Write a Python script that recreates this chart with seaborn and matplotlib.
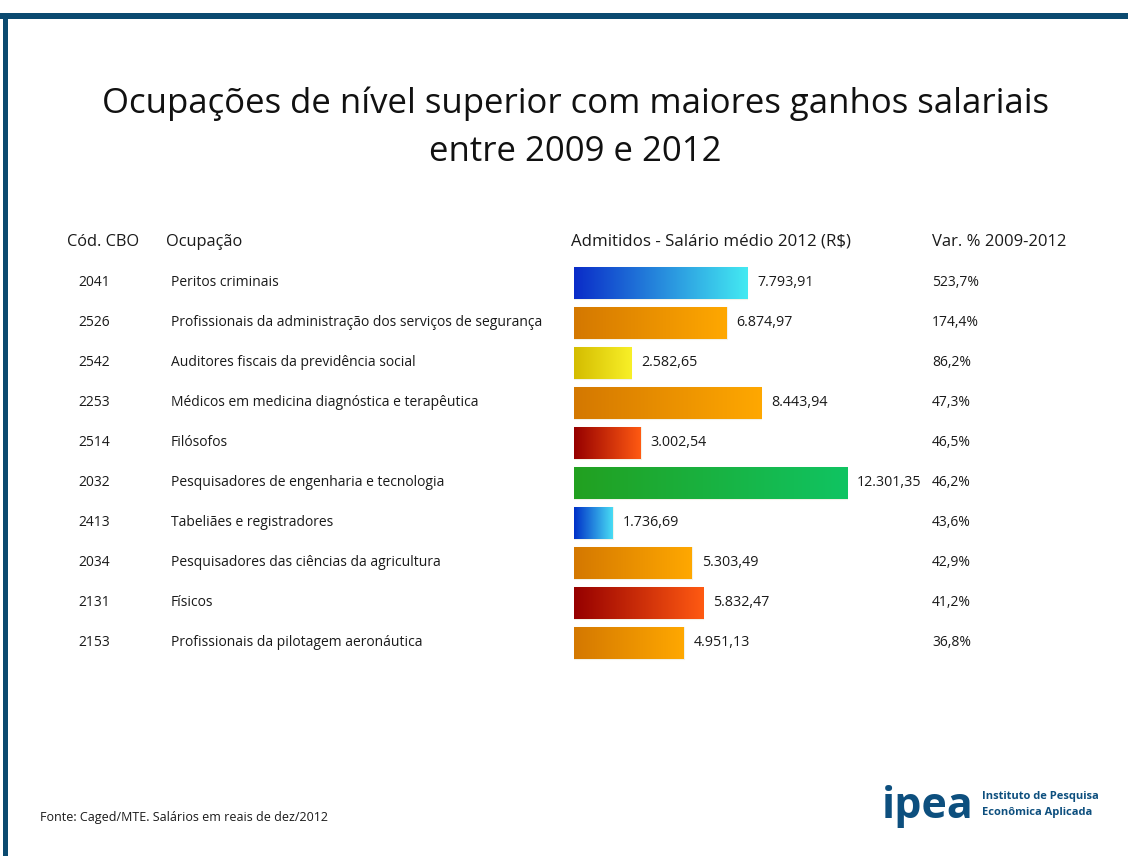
import numpy as np
import pandas as pd
import matplotlib
matplotlib.use("Agg")
import matplotlib.pyplot as plt
import seaborn as sns
from matplotlib.colors import LinearSegmentedColormap
from matplotlib.transforms import blended_transform_factory
from matplotlib.patches import Rectangle

codigos = ["2041", "2526", "2542", "2253", "2514", "2032", "2413", "2034", "2131", "2153"]
ocupacoes = [
    "Peritos criminais",
    "Profissionais da administração dos serviços de segurança",
    "Auditores fiscais da previdência social",
    "Médicos em medicina diagnóstica e terapêutica",
    "Filósofos",
    "Pesquisadores de engenharia e tecnologia",
    "Tabeliães e registradores",
    "Pesquisadores das ciências da agricultura",
    "Físicos",
    "Profissionais da pilotagem aeronáutica",
]
salarios = [7793.91, 6874.97, 2582.65, 8443.94, 3002.54, 12301.35, 1736.69, 5303.49, 5832.47, 4951.13]
variacao = [523.7, 174.4, 86.2, 47.3, 46.5, 46.2, 43.6, 42.9, 41.2, 36.8]
grad_left = ["#0a2cc8", "#d47800", "#d4bc00", "#d47800", "#960000",
             "#22a020", "#0030c8", "#d47800", "#960000", "#d47800"]
grad_right = ["#44eaf2", "#ffa800", "#f8f028", "#ffa800", "#ff5a12",
              "#10c462", "#48dcf4", "#ffa800", "#ff5a12", "#ffa800"]

sns.set_theme(style="white")
plt.rcParams["font.family"] = ["Open Sans", "DejaVu Sans"]

W, H = 1128, 856
fig = plt.figure(figsize=(W / 100, H / 100), dpi=100)
fig.patch.set_facecolor("white")

# frame
fig.patches.append(Rectangle((0, 1 - 19 / H), 1, 6 / H, transform=fig.transFigure,
                             facecolor="#0b4a70", edgecolor="none", zorder=0))
fig.patches.append(Rectangle((3 / W, 0), 5 / W, 1 - 13 / H, transform=fig.transFigure,
                             facecolor="#0b4a70", edgecolor="none", zorder=0))

x0, x1 = 574, 1100
top, bot = 263, 663
ax = fig.add_axes([x0 / W, 1 - bot / H, (x1 - x0) / W, (bot - top) / H])
scale = 0.0222  # px per R$
df = pd.DataFrame({"ocupacao": ocupacoes, "salario": salarios})
sns.barplot(data=df, x="salario", y="ocupacao", hue="ocupacao", palette=grad_right,
            legend=False, ax=ax, width=0.8, saturation=1)
ax.set_xlim(0, (x1 - x0) / scale)
ax.set_ylim(9.5, -0.5)
ax.axis("off")

grad = np.linspace(0, 1, 256).reshape(1, -1)
for p in ax.patches[:len(salarios)]:
    bx, by = p.get_x(), p.get_y()
    bw, bh = p.get_width(), p.get_height()
    i = int(round(by + bh / 2))
    cmap = LinearSegmentedColormap.from_list(f"g{i}", [grad_left[i], grad_right[i]])
    im = ax.imshow(grad, cmap=cmap, aspect="auto", extent=[bx, bx + bw, by + bh, by],
                   zorder=2, interpolation="bilinear")
    im.set_clip_path(p)
    p.set_edgecolor("#f2f2e8")
    p.set_linewidth(0.8)
ax.set_xlim(0, (x1 - x0) / scale)
ax.set_ylim(9.5, -0.5)


def fmt_brl(v):
    return f"{v:,.2f}".replace(",", "X").replace(".", ",").replace("X", ".")


txtc = "#1a1a1a"
for i, v in enumerate(salarios):
    ax.text(v + 10 / scale, i, fmt_brl(v), va="center", ha="left", fontsize=10.3, color=txtc)

tr = blended_transform_factory(fig.transFigure, ax.transData)
for i in range(len(codigos)):
    ax.text(78 / W, i, codigos[i], transform=tr, va="center", ha="left", fontsize=10, color=txtc)
    ax.text(171 / W, i, ocupacoes[i], transform=tr, va="center", ha="left", fontsize=10, color=txtc)
    ax.text(932 / W, i, f"{variacao[i]:.1f}".replace(".", ",") + "%", transform=tr,
            va="center", ha="left", fontsize=10, color=txtc)

hy = 1 - 242 / H
fig.text(67 / W, hy, "Cód. CBO", fontsize=11.8, va="center", color=txtc)
fig.text(166 / W, hy, "Ocupação", fontsize=11.8, va="center", color=txtc)
fig.text(571 / W, hy, "Admitidos - Salário médio 2012 (R$)", fontsize=12.2, va="center", color=txtc)
fig.text(932 / W, hy, "Var. % 2009-2012", fontsize=12, va="center", color=txtc)

fig.text(575 / W, 1 - 104 / H, "Ocupações de nível superior com maiores ganhos salariais",
         fontsize=25, ha="center", va="center", color="#111111")
fig.text(575 / W, 1 - 152 / H, "entre 2009 e 2012",
         fontsize=25, ha="center", va="center", color="#111111")

fig.text(40 / W, 1 - 817 / H, "Fonte: Caged/MTE. Salários em reais de dez/2012",
         fontsize=9, va="center", color=txtc)
fig.text(882 / W, 1 - 806 / H, "ipea", fontsize=31, fontweight="bold", va="center",
         color="#0d4f7e")
fig.text(982 / W, 1 - 797 / H, "Instituto de Pesquisa", fontsize=8, fontweight="bold",
         va="center", color="#0d4f7e")
fig.text(982 / W, 1 - 813 / H, "Econômica Aplicada", fontsize=8, fontweight="bold",
         va="center", color="#0d4f7e")

fig.savefig("out.png", dpi=100, facecolor="white")
